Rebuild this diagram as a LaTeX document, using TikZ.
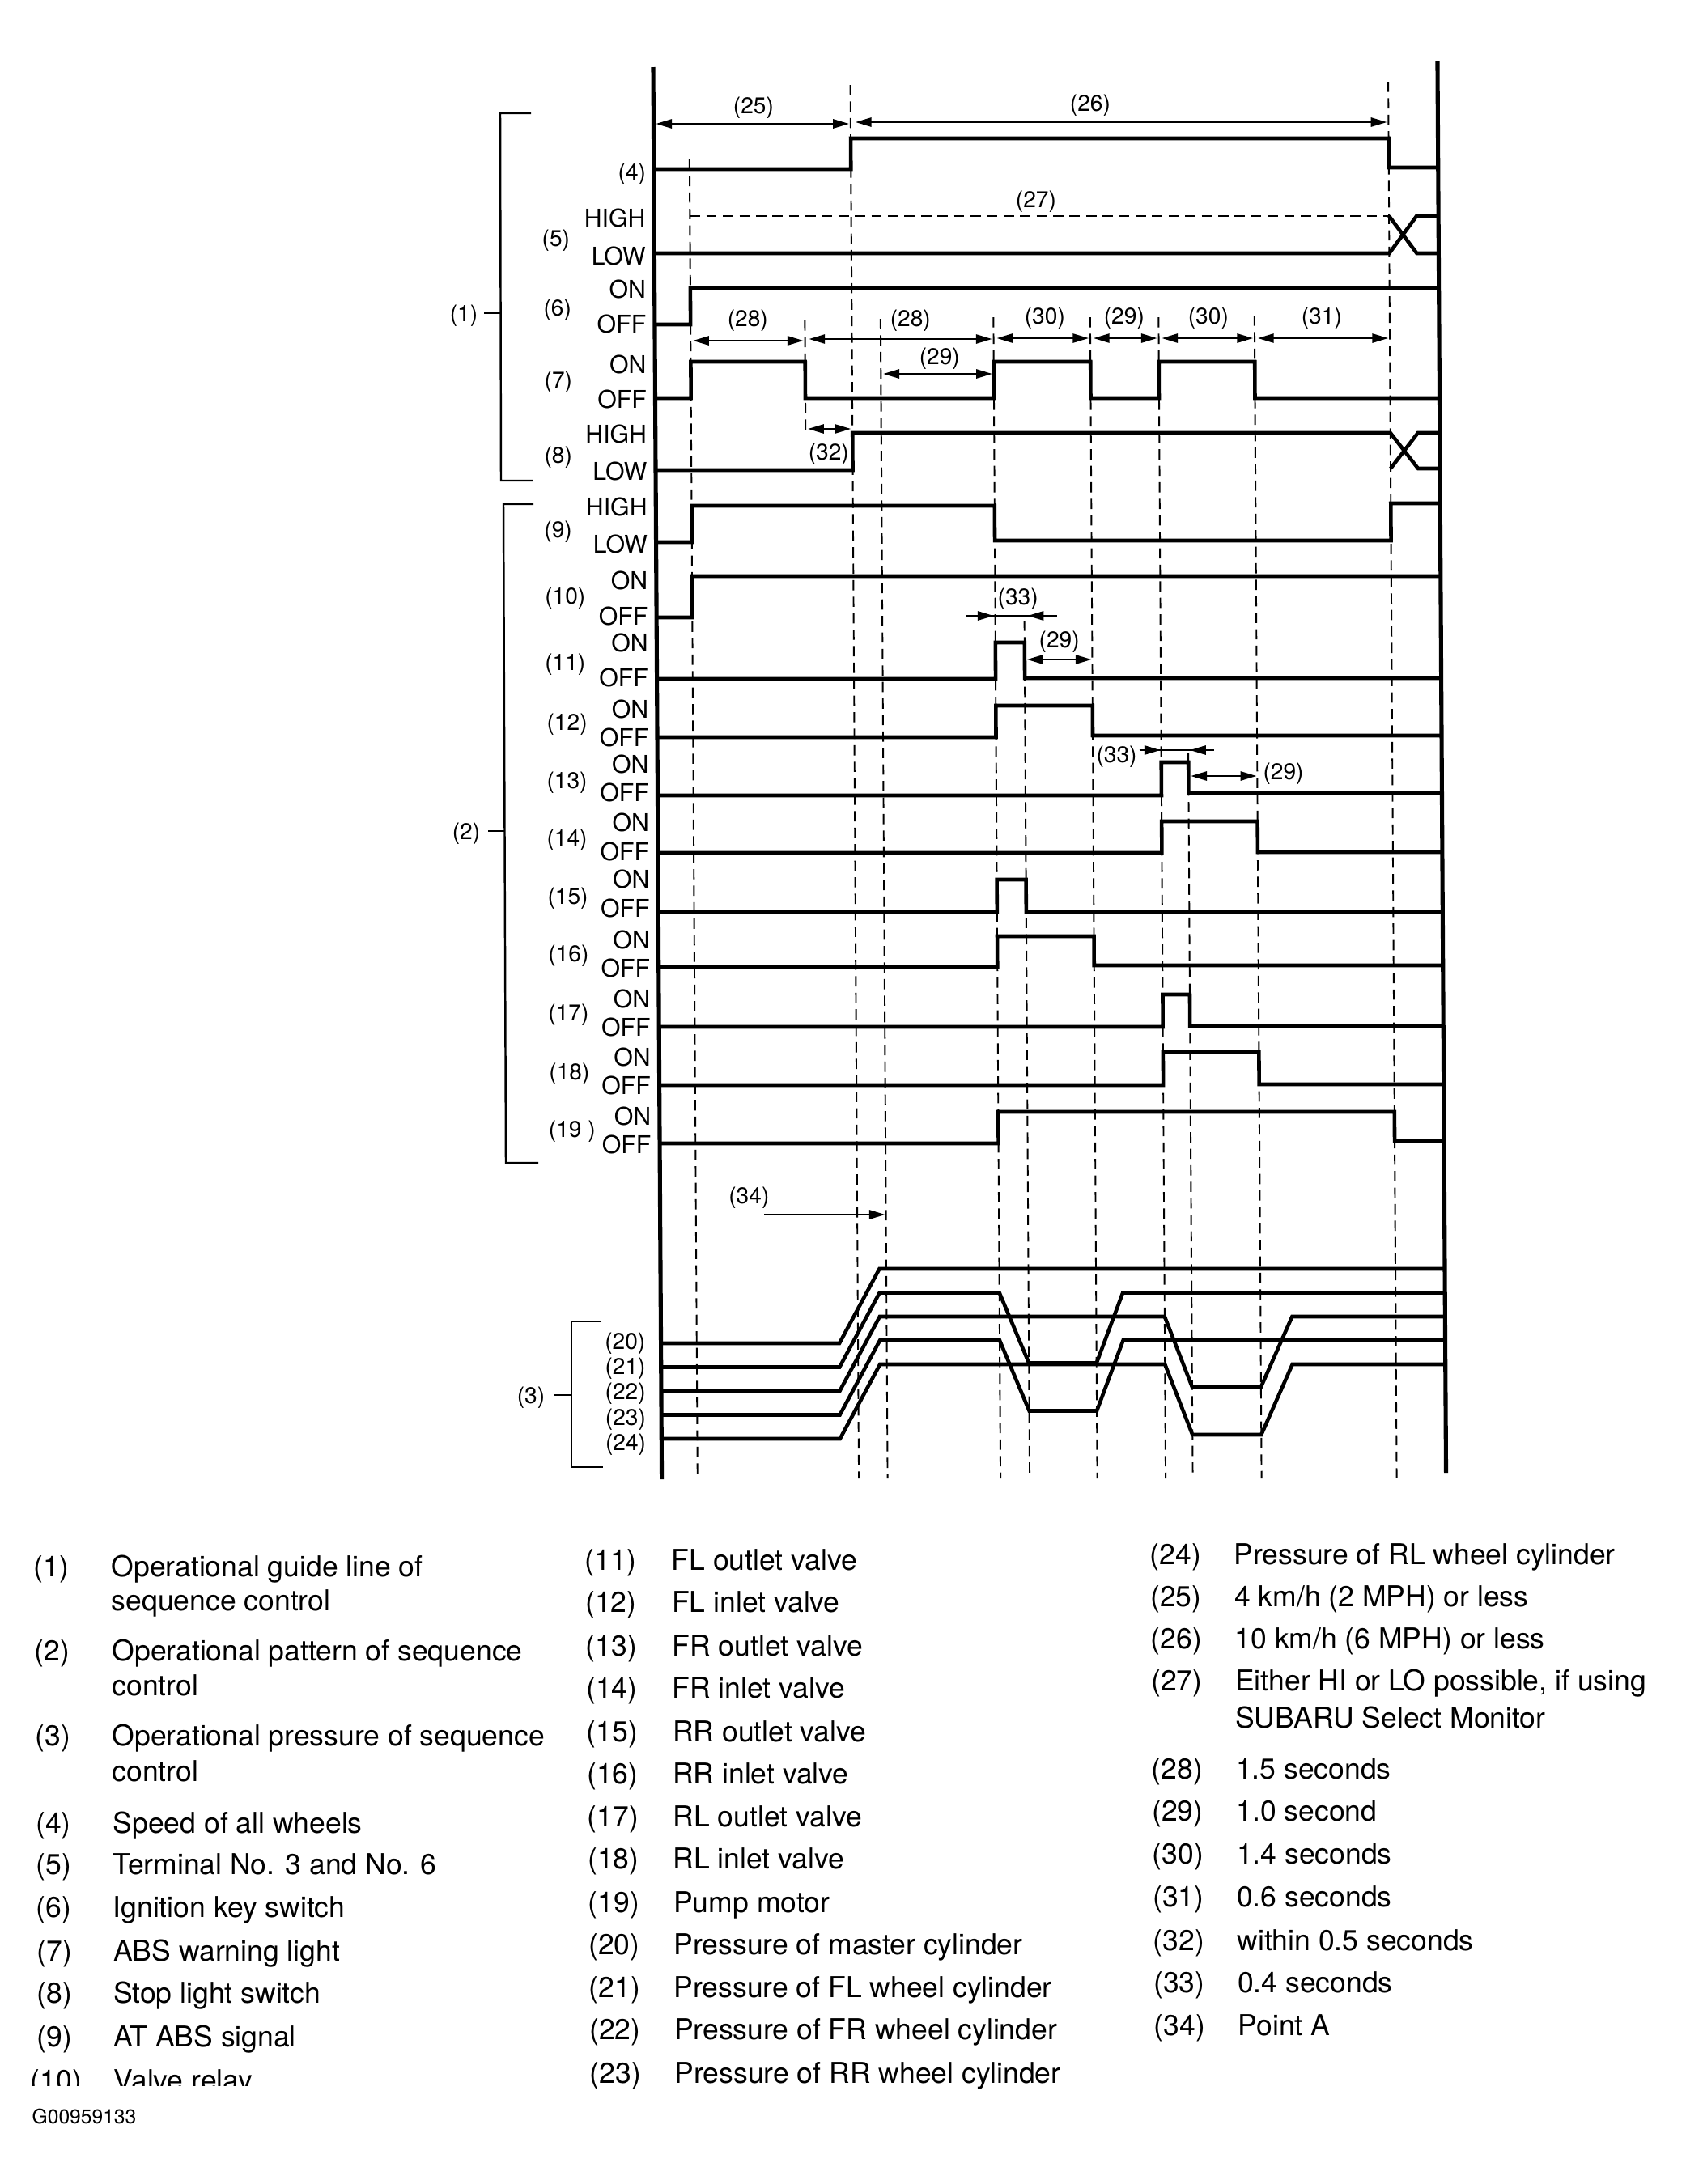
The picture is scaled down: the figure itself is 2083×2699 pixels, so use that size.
\documentclass[tikz,border=0pt]{standalone}
\usepackage{fontspec}
\setmainfont{TeX Gyre Heros}
\usetikzlibrary{arrows.meta}
\begin{document}
\begin{tikzpicture}[x=0.01cm,y=-0.01cm,>={Triangle[length=5.6pt,width=3.2pt]}]
\tikzset{
 sig/.style={line width=1.3pt, line join=miter},
 axisline/.style={line width=1.45pt},
 guide/.style={line width=0.55pt, dash pattern=on 3.6pt off 2.2pt},
 dim/.style={line width=0.6pt, <->},
 dimr/.style={line width=0.6pt, ->},
 thinl/.style={line width=0.6pt},
 brk/.style={line width=0.7pt},
 lbl/.style={font=\fontsize{8pt}{9pt}\selectfont, inner sep=0pt, text height=5.8pt, text depth=0pt},
 st/.style={font=\fontsize{8.6pt}{9pt}\selectfont, inner sep=0pt, text height=6.2pt, text depth=0pt, anchor=east},
 leg/.style={font=\fontsize{10.1pt}{12pt}\selectfont, inner sep=0pt, anchor=base west},
}
\fill[white] (0,0) rectangle (2083,2699);
\useasboundingbox (0,0) rectangle (2083,2699);

\def\axL{806.5}\def\axR{1775.5}
\def\colA{850.7}\def\colB{992}\def\colC{1050}\def\colD{1085.5}
\def\colE{1225}\def\colF{1261}\def\colG{1344.5}\def\colH{1429}
\def\colI{1462.5}\def\colJ{1547.5}\def\colK{1714.5}

\begin{scope}[y={(0.000065cm,-0.01cm)}]
% guide lines
\draw[guide] (\colA,197) -- (\colA,1827);
\draw[guide] (\colB,396) -- (\colB,535);
\draw[guide] (\colC,105) -- (\colC,1827);
\draw[guide] (\colD,394) -- (\colD,1827);
\draw[guide] (\colE,392) -- (\colE,1827);
\draw[guide] (\colF,767) -- (\colF,1827);
\draw[guide] (\colG,392) -- (\colG,1827);
\draw[guide] (\colH,392) -- (\colH,1827);
\draw[guide] (\colI,930) -- (\colI,1827);
\draw[guide] (\colJ,390) -- (\colJ,1827);
\draw[guide] (\colK,101) -- (\colK,1827);
% axes
\draw[axisline] (\axL,83) -- (\axL,1828);
\draw[axisline] (\axR,76) -- (\axR,1820);

% (4)
\draw[sig] (\axL,209) -- (\colC,209) -- (\colC,171) -- (\colK,171) -- (\colK,207) -- (\axR,207);
% (5)
\draw[guide] (\colA,267) -- (\colK,267);
\draw[sig] (\axL,313) -- (\colK,313) -- ({\colK+34},267) -- (\axR,267);
\draw[sig] (\colK,267) -- ({\colK+34},313) -- (\axR,313);
% (6)
\draw[sig] (\axL,401) -- (\colA,401) -- (\colA,356) -- (\axR,356);
% (7)
\draw[sig] (\axL,492) -- (\colA,492) -- (\colA,447) -- (\colB,447) -- (\colB,492) -- (\colE,492) -- (\colE,447) -- (\colG,447) -- (\colG,492) -- (\colH,492) -- (\colH,447) -- (\colJ,447) -- (\colJ,492) -- (\axR,492);
% (8)
\draw[sig] (\axL,581) -- (\colC,581) -- (\colC,535) -- (\colK,535) -- ({\colK+34},579) -- (\axR,579);
\draw[sig] (\colK,579) -- ({\colK+34},535) -- (\axR,535);
% (9)
\draw[sig] (\axL,670) -- (\colA,670) -- (\colA,625) -- (\colE,625) -- (\colE,668) -- (\colK,668) -- (\colK,622) -- (\axR,622);
% (10)
\draw[sig] (\axL,763) -- (\colA,763) -- (\colA,712) -- (\axR,712);
% (11)
\draw[sig] (\axL,839) -- (\colE,839) -- (\colE,794) -- (\colF,794) -- (\colF,838) -- (\axR,838);
% (12)
\draw[sig] (\axL,911) -- (\colE,911) -- (\colE,872) -- (\colG,872) -- (\colG,909) -- (\axR,909);
% (13)
\draw[sig] (\axL,983) -- (\colH,983) -- (\colH,942) -- (\colI,942) -- (\colI,980) -- (\axR,980);
% (14)
\draw[sig] (\axL,1054) -- (\colH,1054) -- (\colH,1015) -- (\colJ,1015) -- (\colJ,1053) -- (\axR,1053);
% (15)
\draw[sig] (\axL,1127) -- (\colE,1127) -- (\colE,1087) -- (\colF,1087) -- (\colF,1127) -- (\axR,1127);
% (16)
\draw[sig] (\axL,1195) -- (\colE,1195) -- (\colE,1157) -- (\colG,1157) -- (\colG,1193) -- (\axR,1193);
% (17)
\draw[sig] (\axL,1269) -- (\colH,1269) -- (\colH,1229) -- (\colI,1229) -- (\colI,1268) -- (\axR,1268);
% (18)
\draw[sig] (\axL,1341) -- (\colH,1341) -- (\colH,1300) -- (\colJ,1300) -- (\colJ,1340) -- (\axR,1340);
% (19)
\draw[sig] (\axL,1413) -- (\colE,1413) -- (\colE,1374) -- (\colK,1374) -- (\colK,1410) -- (\axR,1410);

% pressures
\def\rA{1027}\def\rB{1077}
\draw[sig] (\axL,1660) -- (\rA,1660) -- (\rB,1568) -- (\axR,1568);
\draw[sig] (\axL,1689.5) -- (\rA,1689.5) -- (\rB,1597.5) -- (\colE,1597.5) -- (\colF,1684.5) -- (\colG,1684.5) -- ({\colG+33},1597.5) -- (\axR,1597.5);
\draw[sig] (\axL,1719) -- (\rA,1719) -- (\rB,1627) -- (\colH,1627) -- (\colI,1714) -- (\colJ,1714) -- ({\colJ+39},1627) -- (\axR,1627);
\draw[sig] (\axL,1748.5) -- (\rA,1748.5) -- (\rB,1656.5) -- (\colE,1656.5) -- (\colF,1743.5) -- (\colG,1743.5) -- ({\colG+33},1656.5) -- (\axR,1656.5);
\draw[sig] (\axL,1778) -- (\rA,1778) -- (\rB,1686) -- (\colH,1686) -- (\colI,1773) -- (\colJ,1773) -- ({\colJ+39},1686) -- (\axR,1686);

% dimension arrows
\draw[dim] ({\axL+3},153) -- ({\colC-2},153);
\draw[dim] ({\colC+6},151) -- ({\colK-2},151);
\draw[dim] ({\colA+3},421) -- ({\colB-2},421);
\draw[dim] ({\colB+5},419) -- ({\colE-2},419);
\draw[dim] ({\colE+4},418) -- ({\colG-2},418);
\draw[dim] ({\colG+4},418) -- ({\colH-2},418);
\draw[dim] ({\colH+4},418) -- ({\colJ-2},418);
\draw[dim] ({\colJ+4},418) -- ({\colK-2},418);
\draw[dim] ({\colD+3},462) -- ({\colE-2},462);
\draw[dim] ({\colB+3},530) -- ({\colC-2},530);
% (33) upper
\draw[thinl] ({\colE-36},761) -- ({\colF+40},761);
\draw[dimr] ({\colE-36},761) -- ({\colE-2},761);
\draw[dimr] ({\colF+40},761) -- ({\colF+4},761);
\draw[dim] ({\colF+3},815) -- ({\colG-1},815);
% (33) lower
\draw[thinl] (1402,927) -- (1494,927);
\draw[dimr] (1402,927) -- ({\colH-1},927);
\draw[dimr] (1494,927) -- ({\colI+2},927);
\draw[dim] ({\colI+3},959) -- ({\colJ-1},959);
% (34)
\draw[dimr] (935,1501) -- ({\colD-1},1501);

% dimension labels
\node[lbl] (t25) at (930.2,130) {(25)};
\node[lbl] (t26) at (1346.2,127) {(26)};
\node[lbl] (t27) at (1278.4,246) {(27)};
\node[lbl] (t28a) at (921.4,393) {(28)};
\node[lbl] (t28b) at (1122.4,393) {(28)};
\node[lbl] (t30a) at (1288.5,390) {(30)};
\node[lbl] (t29a) at (1386.5,390) {(29)};
\node[lbl] (t30b) at (1490.5,390) {(30)};
\node[lbl] (t31) at (1630.5,390) {(31)};
\node[lbl] (t29b) at (1158.1,440) {(29)};
\node[lbl] (t32) at (1020.4,558) {(32)};
\node[lbl] (t33a) at (1253.2,737) {(33)};
\node[lbl] (t29c) at (1303.9,790) {(29)};
\node[lbl] (t33b) at (1373.9,932) {(33)};
\node[lbl] (t29d) at (1579.8,953) {(29)};
\node[lbl] (t34) at (916.4,1477) {(34)};

% row numbers
\node[lbl] (n4) at (779.6,212) {(4)};
\node[lbl] (n5) at (685.1,294) {(5)};
\node[lbl] (n6) at (686.5,380) {(6)};
\node[lbl] (n7) at (687,469) {(7)};
\node[lbl] (n8) at (686.3,562) {(8)};
\node[lbl] (n9) at (685.7,654) {(9)};
\node[lbl] (n10) at (693.8,736) {(10)};
\node[lbl] (n11) at (693.3,818) {(11)};
\node[lbl] (n12) at (695.2,892) {(12)};
\node[lbl] (n13) at (694.7,964) {(13)};
\node[lbl] (n14) at (694.3,1035) {(14)};
\node[lbl] (n15) at (694.8,1107) {(15)};
\node[lbl] (n16) at (695.3,1178) {(16)};
\node[lbl] (n17) at (694.9,1251) {(17)};
\node[lbl] (n18) at (695.4,1324) {(18)};
\node[lbl] (n19) at (698.4,1395) {(19 )};
\node[lbl,anchor=east] (n20) at (788,1657) {(20)};
\node[lbl,anchor=east] (n21) at (788,1688) {(21)};
\node[lbl,anchor=east] (n22) at (788,1719) {(22)};
\node[lbl,anchor=east] (n23) at (788,1751) {(23)};
\node[lbl,anchor=east] (n24) at (788,1782) {(24)};

% state labels
\node[st] (s5h) at (796.5,270) {HIGH};
\node[st] (s5l) at (796.5,317) {LOW};
\node[st] (s6h) at (796.5,358) {ON};
\node[st] (s6l) at (796.5,401) {OFF};
\node[st] (s7h) at (796.5,451) {ON};
\node[st] (s7l) at (796.5,494) {OFF};
\node[st] (s8h) at (796.5,537) {HIGH};
\node[st] (s8l) at (796.5,583) {LOW};
\node[st] (s9h) at (796.5,627) {HIGH};
\node[st] (s9l) at (796.5,673) {LOW};
\node[st] (s10h) at (796.5,718) {ON};
\node[st] (s10l) at (796.5,762) {OFF};
\node[st] (s11h) at (796.5,795) {ON};
\node[st] (s11l) at (796.5,838) {OFF};
\node[st] (s12h) at (796.5,877) {ON};
\node[st] (s12l) at (796.5,912) {OFF};
\node[st] (s13h) at (796.5,945) {ON};
\node[st] (s13l) at (796.5,980) {OFF};
\node[st] (s14h) at (796.5,1017) {ON};
\node[st] (s14l) at (796.5,1053) {OFF};
\node[st] (s15h) at (796.5,1087) {ON};
\node[st] (s15l) at (796.5,1123) {OFF};
\node[st] (s16h) at (796.5,1162) {ON};
\node[st] (s16l) at (796.5,1197) {OFF};
\node[st] (s17h) at (796.5,1235) {ON};
\node[st] (s17l) at (796.5,1270) {OFF};
\node[st] (s18h) at (796.5,1307) {ON};
\node[st] (s18l) at (796.5,1342) {OFF};
\node[st] (s19h) at (796.5,1380) {ON};
\node[st] (s19l) at (796.5,1415) {OFF};
\end{scope}

% brackets
\draw[brk] (656,140) -- (618,140) -- (619,594) -- (658,594);
\draw[brk] (598,387) -- (618.5,387);
\node[lbl] (g1) at (573,387) {(1)};
\draw[brk] (659,623) -- (622,623) -- (625,1437) -- (665,1437);
\draw[brk] (603,1027) -- (623,1027);
\node[lbl] (g2) at (576,1027) {(2)};
\draw[brk] (743,1633) -- (706,1633) -- (706,1813) -- (745,1813);
\draw[brk] (684,1724) -- (706,1724);
\node[lbl] (g3) at (656,1724) {(3)};

% legend column 1
\node[leg] (ln1) at (41,1948) {(1)};
\node[leg] (lt1) at (137,1948) {Operational guide line of};
\node[leg] (lt1b) at (137,1990) {sequence control};
\node[leg] (ln2) at (42,2052) {(2)};
\node[leg] (lt2) at (138,2052) {Operational pattern of sequence};
\node[leg] (lt2b) at (138,2095) {control};
\node[leg] (ln3) at (43,2157) {(3)};
\node[leg] (lt3) at (138,2157) {Operational pressure of sequence};
\node[leg] (lt3b) at (138,2201) {control};
\node[leg] (ln4) at (43.5,2265) {(4)};
\node[leg] (lt4) at (139,2265) {Speed of all wheels};
\node[leg] (ln5) at (44,2316) {(5)};
\node[leg] (lt5) at (139,2316) {Terminal No. 3 and No. 6};
\node[leg] (ln6) at (44,2369.5) {(6)};
\node[leg] (lt6) at (139,2369.5) {Ignition key switch};
\node[leg] (ln7) at (45,2423) {(7)};
\node[leg] (lt7) at (139.5,2423) {ABS warning light};
\node[leg] (ln8) at (45,2475.6) {(8)};
\node[leg] (lt8) at (139.5,2475.6) {Stop light switch};
\node[leg] (ln9) at (45,2529) {(9)};
\node[leg] (lt9) at (139.5,2529) {AT ABS signal};
\begin{scope}
\clip (0,2540) rectangle (700,2577);
\node[leg] (ln10) at (37,2583) {(10)};
\node[leg] (lt10) at (140,2583) {Valve relay};
\end{scope}
\node[font=\fontsize{7pt}{8pt}\selectfont, inner sep=0pt, anchor=base west] (gid) at (39,2624.5) {G00959133};

% legend column 2
\node[leg] (ln11) at (722,1940) {(11)};
\node[leg] (lt11) at (829,1940) {FL outlet valve};
\node[leg] (ln12) at (722.5,1992) {(12)};
\node[leg] (lt12) at (829.5,1992) {FL inlet valve};
\node[leg] (ln13) at (723,2046) {(13)};
\node[leg] (lt13) at (830,2046) {FR outlet valve};
\node[leg] (ln14) at (723.5,2098) {(14)};
\node[leg] (lt14) at (830,2098) {FR inlet valve};
\node[leg] (ln15) at (724,2152) {(15)};
\node[leg] (lt15) at (830.5,2152) {RR outlet valve};
\node[leg] (ln16) at (724.5,2204) {(16)};
\node[leg] (lt16) at (830.5,2204) {RR inlet valve};
\node[leg] (ln17) at (725,2257) {(17)};
\node[leg] (lt17) at (831,2257) {RL outlet valve};
\node[leg] (ln18) at (725.5,2309.5) {(18)};
\node[leg] (lt18) at (831,2309.5) {RL inlet valve};
\node[leg] (ln19) at (726,2363) {(19)};
\node[leg] (lt19) at (831.5,2363) {Pump motor};
\node[leg] (ln20) at (726.5,2415.5) {(20)};
\node[leg] (lt20) at (832,2415.5) {Pressure of master cylinder};
\node[leg] (ln21) at (727,2468) {(21)};
\node[leg] (lt21) at (832,2468) {Pressure of FL wheel cylinder};
\node[leg] (ln22) at (727.5,2520) {(22)};
\node[leg] (lt22) at (832.5,2520) {Pressure of FR wheel cylinder};
\node[leg] (ln23) at (728,2574) {(23)};
\node[leg] (lt23) at (833,2574) {Pressure of RR wheel cylinder};

% legend column 3
\node[leg] (ln24) at (1420,1933.6) {(24)};
\node[leg] (lt24) at (1524,1933.6) {Pressure of RL wheel cylinder};
\node[leg] (ln25) at (1420.5,1985.8) {(25)};
\node[leg] (lt25) at (1524.5,1985.8) {4 km/h (2 MPH) or less};
\node[leg] (ln26) at (1421,2037.6) {(26)};
\node[leg] (lt26) at (1525,2037.6) {10 km/h (6 MPH) or less};
\node[leg] (ln27) at (1421.5,2089.8) {(27)};
\node[leg] (lt27) at (1525.5,2089.8) {Either HI or LO possible, if using};
\node[leg] (lt27b) at (1525.5,2135) {SUBARU Select Monitor};
\node[leg] (ln28) at (1422,2198) {(28)};
\node[leg] (lt28) at (1526.5,2198) {1.5 seconds};
\node[leg] (ln29) at (1422.5,2250.5) {(29)};
\node[leg] (lt29) at (1527,2250.5) {1.0 second};
\node[leg] (ln30) at (1423,2303) {(30)};
\node[leg] (lt30) at (1527.5,2303) {1.4 seconds};
\node[leg] (ln31) at (1423.5,2356.8) {(31)};
\node[leg] (lt31) at (1527.5,2356.8) {0.6 seconds};
\node[leg] (ln32) at (1424,2410) {(32)};
\node[leg] (lt32) at (1528,2410) {within 0.5 seconds};
\node[leg] (ln33) at (1424.5,2462.6) {(33)};
\node[leg] (lt33) at (1528.5,2462.6) {0.4 seconds};
\node[leg] (ln34) at (1425,2515) {(34)};
\node[leg] (lt34) at (1529,2515) {Point A};
\end{tikzpicture}
\end{document}
